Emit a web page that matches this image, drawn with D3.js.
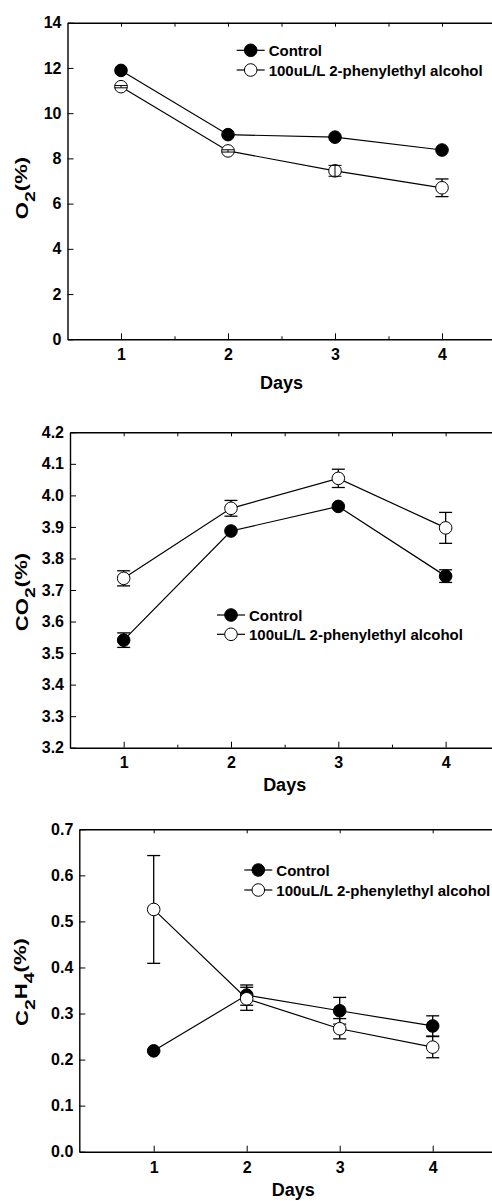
<!DOCTYPE html>
<html>
<head>
<meta charset="utf-8">
<script src="https://cdn.jsdelivr.net/npm/d3@7"></script>
<style>
  body { margin: 0; background: #fff; }
  svg text { font-family: "Liberation Sans", Arial, sans-serif; font-weight: bold; fill: #000; }
</style>
</head>
<body>
<div id="chart"></div>
<script>
// data
let days = [1, 2, 3, 4];
let seriesNames = ["Control", "100uL/L 2-phenylethyl alcohol"];

let o2Control = [11.89, 9.05, 8.94, 8.37];
let o2ControlErr = [0.08, 0.08, 0.08, 0.08];
let o2Treated = [11.17, 8.33, 7.45, 6.70];
let o2TreatedErr = [0.05, 0.05, 0.24, 0.39];

let co2Control = [3.541, 3.887, 3.965, 3.744];
let co2ControlErr = [0.023, 0.016, 0.017, 0.020];
let co2Treated = [3.737, 3.959, 4.054, 3.897];
let co2TreatedErr = [0.024, 0.025, 0.029, 0.049];

let c2h4Control = [0.219, 0.340, 0.306, 0.273];
let c2h4ControlErr = [0.013, 0.022, 0.029, 0.022];
let c2h4Treated = [0.526, 0.332, 0.267, 0.227];
let c2h4TreatedErr = [0.117, 0.025, 0.022, 0.023];

let o2Ticks = [0, 2, 4, 6, 8, 10, 12, 14];
let co2Ticks = [3.2, 3.3, 3.4, 3.5, 3.6, 3.7, 3.8, 3.9, 4.0, 4.1, 4.2];
let c2h4Ticks = [0.0, 0.1, 0.2, 0.3, 0.4, 0.5, 0.6, 0.7];

let svgWidth = 492;
let svgHeight = 1201;

let svg = d3.select("#chart")
  .append("svg")
  .attr("width", svgWidth)
  .attr("height", svgHeight);

// one entry per panel: layout + which arrays to use
let panels = [
  {
    left: 67.5, right: 495.5, top: 22.7, bottom: 339.3,
    xDomain: [0.5, 4.5], minor: true,
    yTicks: o2Ticks, yFormat: d3.format("d"),
    control: o2Control, controlErr: o2ControlErr,
    treated: o2Treated, treatedErr: o2TreatedErr,
    label: [["O", 0], ["2", 1], ["(%)", 0]], labelY: 188,
    legendX: 250.7, legendY: 50.3, legendGap: 19.7,
    tickPad: 9, daysY: 389
  },
  {
    left: 70, right: 499.3, top: 432.3, bottom: 747.7,
    xDomain: [0.5, 4.5], minor: true,
    yTicks: co2Ticks, yFormat: d3.format(".1f"),
    control: co2Control, controlErr: co2ControlErr,
    treated: co2Treated, treatedErr: co2TreatedErr,
    label: [["CO", 0], ["2", 1], ["(%)", 0]], labelY: 592,
    legendX: 231, legendY: 615, legendGap: 19.3,
    tickPad: 9, daysY: 791
  },
  {
    left: 79.3, right: 507.1, top: 829.3, bottom: 1151.7,
    xDomain: [0.2, 4.8], minor: false,
    yTicks: c2h4Ticks, yFormat: d3.format(".1f"),
    control: c2h4Control, controlErr: c2h4ControlErr,
    treated: c2h4Treated, treatedErr: c2h4TreatedErr,
    label: [["C", 0], ["2", 1], ["H", 0], ["4", 1], ["(%)", 0]], labelY: 982,
    legendX: 258.3, legendY: 870, legendGap: 20,
    tickPad: 10, daysY: 1196
  }
];

let radius = 6.3;
let capHalf = 6.5;

panels.forEach(function(p) {
  let x = d3.scaleLinear().domain(p.xDomain).range([p.left, p.right]);
  let y = d3.scaleLinear().domain(d3.extent(p.yTicks)).range([p.bottom, p.top]);

  let g = svg.append("g");

  let halfTicks = p.minor ? [1.5, 2.5, 3.5, 4.5].filter(d => d < p.xDomain[1]) : [];
  let topTicks = p.minor ? [1, 1.5, 2, 2.5, 3, 3.5, 4] : days;

  // top border with inward ticks
  g.append("g")
    .attr("transform", `translate(0, ${p.top})`)
    .call(d3.axisTop(x).tickValues(topTicks).tickSize(-4).tickSizeOuter(0).tickFormat(""))
    .call(a => a.select(".domain").attr("stroke-width", 1.4));

  // bottom axis
  let bottomAxis = g.append("g")
    .attr("transform", `translate(0, ${p.bottom})`)
    .call(d3.axisBottom(x).tickValues(days).tickSize(-6).tickSizeOuter(0)
      .tickPadding(p.tickPad).tickFormat(d3.format("d")));
  bottomAxis.select(".domain").attr("stroke-width", 1.4);
  bottomAxis.selectAll("text").style("font-size", "16px");

  g.append("g")
    .attr("transform", `translate(0, ${p.bottom})`)
    .call(d3.axisBottom(x).tickValues(halfTicks).tickSize(-3).tickSizeOuter(0).tickFormat(""))
    .call(a => a.select(".domain").remove());

  // left axis
  let leftAxis = g.append("g")
    .attr("transform", `translate(${p.left}, 0)`)
    .call(d3.axisLeft(y).tickValues(p.yTicks).tickSize(-6).tickSizeOuter(0)
      .tickPadding(6).tickFormat(p.yFormat));
  leftAxis.select(".domain").attr("stroke-width", 1.4);
  leftAxis.selectAll("text").style("font-size", "16px");

  // axis titles
  g.append("text")
    .attr("x", (p.left + p.right) / 2)
    .attr("y", p.daysY)
    .attr("text-anchor", "middle")
    .style("font-size", "18px")
    .text("Days");

  let yLabel = g.append("text")
    .attr("transform", `translate(28, ${p.labelY}) rotate(-90) scale(1.3, 1)`)
    .attr("text-anchor", "middle")
    .style("font-size", "17px");
  let shifted = 0;
  p.label.forEach(function(part) {
    let dy = part[1] ? (shifted ? 0 : 0.45) : (shifted ? -0.45 : 0);
    shifted = part[1];
    yLabel.append("tspan")
      .attr("dy", dy + "em")
      .style("font-size", part[1] ? "15px" : "17px")
      .text(part[0]);
  });

  let line = d3.line().x((d, i) => x(days[i])).y(d => y(d));

  let series = [
    { values: p.control, err: p.controlErr, fill: "#000" },
    { values: p.treated, err: p.treatedErr, fill: "#fff" }
  ];

  series.forEach(function(s) {
    g.append("path")
      .datum(s.values)
      .attr("d", line)
      .attr("fill", "none")
      .attr("stroke", "#000")
      .attr("stroke-width", 1.2);
  });

  function drawBars(sel, s, onTop) {
    s.values.forEach(function(v, i) {
      let y0 = y(v + s.err[i]);
      let y1 = y(v - s.err[i]);
      let small = (y1 - y0) / 2 < radius;
      if (small !== onTop) return;
      let cx = x(days[i]);
      sel.append("line").attr("x1", cx).attr("x2", cx).attr("y1", y0).attr("y2", y1);
      sel.append("line").attr("x1", cx - capHalf).attr("x2", cx + capHalf).attr("y1", y0).attr("y2", y0);
      sel.append("line").attr("x1", cx - capHalf).attr("x2", cx + capHalf).attr("y1", y1).attr("y2", y1);
    });
  }

  let barsBack = g.append("g").attr("stroke", "#000").attr("stroke-width", 1.3);
  series.forEach(s => drawBars(barsBack, s, false));

  series.forEach(function(s) {
    g.append("g").selectAll("circle")
      .data(s.values)
      .enter()
      .append("circle")
      .attr("cx", (d, i) => x(days[i]))
      .attr("cy", d => y(d))
      .attr("r", radius)
      .attr("fill", s.fill)
      .attr("stroke", "#000")
      .attr("stroke-width", 1);
  });

  // tiny error bars show over the open symbols
  let barsFront = g.append("g").attr("stroke", "#000").attr("stroke-width", 1);
  drawBars(barsFront, series[1], true);

  // legend
  let legend = g.append("g");
  series.forEach(function(s, i) {
    let ly = p.legendY + i * p.legendGap;
    legend.append("line")
      .attr("x1", p.legendX - 14).attr("x2", p.legendX + 14)
      .attr("y1", ly).attr("y2", ly)
      .attr("stroke", "#000").attr("stroke-width", 1.2);
    legend.append("circle")
      .attr("cx", p.legendX).attr("cy", ly).attr("r", radius)
      .attr("fill", s.fill).attr("stroke", "#000");
    legend.append("text")
      .attr("x", p.legendX + 18)
      .attr("y", ly + 5.5)
      .style("font-size", "15px")
      .text(seriesNames[i]);
  });
});
</script>
</body>
</html>
